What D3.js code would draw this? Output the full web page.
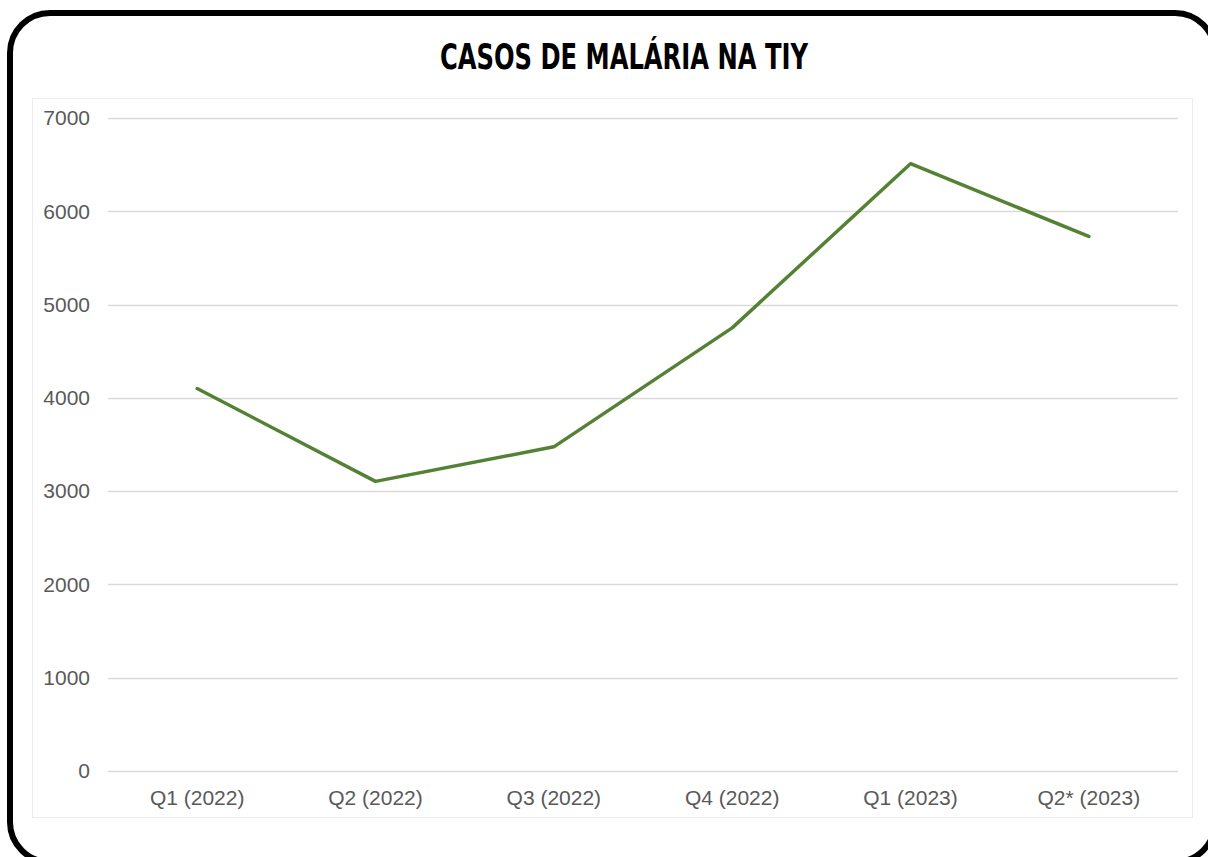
<!DOCTYPE html>
<html>
<head>
<meta charset="utf-8">
<script src="https://cdn.jsdelivr.net/npm/d3@7"></script>
<style>
  body { margin: 0; background: #fff; }
  svg { display: block; }
</style>
</head>
<body>
<svg width="1208" height="857"></svg>
<script>
var categories = ["Q1 (2022)", "Q2 (2022)", "Q3 (2022)", "Q4 (2022)", "Q1 (2023)", "Q2* (2023)"];
var casos = [4100, 3105, 3475, 4750, 6510, 5730];
var yTicks = [0, 1000, 2000, 3000, 4000, 5000, 6000, 7000];
var title = "CASOS DE MALÁRIA NA TIY";

var svg = d3.select("svg"),
    width = +svg.attr("width"),
    height = +svg.attr("height");

// outer rounded frame
svg.append("rect")
    .attr("x", 10).attr("y", 13)
    .attr("width", 1205).attr("height", 849)
    .attr("rx", 40).attr("ry", 40)
    .attr("fill", "none")
    .attr("stroke", "#000")
    .attr("stroke-width", 6);

// faint chart-area box
svg.append("rect")
    .attr("x", 32.5).attr("y", 98.5)
    .attr("width", 1160).attr("height", 719)
    .attr("fill", "none")
    .attr("stroke", "#ececec")
    .attr("stroke-width", 1);

svg.append("text")
    .attr("x", 624).attr("y", 69)
    .attr("text-anchor", "middle")
    .attr("font-family", "'DejaVu Sans Condensed', 'DejaVu Sans', sans-serif")
    .attr("font-stretch", "condensed")
    .attr("font-weight", "bold")
    .attr("font-size", 35)
    .attr("textLength", 368)
    .attr("lengthAdjust", "spacingAndGlyphs")
    .attr("fill", "#000")
    .text(title);

var margin = {left: 108, right: 1178, top: 118, bottom: 771};

var x = d3.scaleBand()
    .domain(categories)
    .range([margin.left, margin.right]);

var y = d3.scaleLinear()
    .domain([0, 7000])
    .range([margin.bottom, margin.top]);

// gridlines
svg.append("g")
    .selectAll("line")
    .data(yTicks)
    .enter().append("line")
    .attr("x1", margin.left).attr("x2", margin.right)
    .attr("y1", function (d) { return Math.round(y(d)) + 0.5; })
    .attr("y2", function (d) { return Math.round(y(d)) + 0.5; })
    .attr("stroke", "#d9d9d9")
    .attr("stroke-width", 1.3);

// y labels
svg.append("g")
    .selectAll("text")
    .data(yTicks)
    .enter().append("text")
    .attr("x", 90)
    .attr("y", function (d) { return y(d); })
    .attr("dy", "0.35em")
    .attr("text-anchor", "end")
    .attr("font-family", "'Liberation Sans', Arial, sans-serif")
    .attr("font-size", 21)
    .attr("fill", "#595959")
    .text(function (d) { return d; });

// x labels
svg.append("g")
    .selectAll("text")
    .data(categories)
    .enter().append("text")
    .attr("x", function (d) { return x(d) + x.bandwidth() / 2; })
    .attr("y", 805)
    .attr("text-anchor", "middle")
    .attr("font-family", "'Liberation Sans', Arial, sans-serif")
    .attr("font-size", 21)
    .attr("fill", "#595959")
    .text(function (d) { return d; });

var line = d3.line()
    .x(function (d, i) { return x(categories[i]) + x.bandwidth() / 2; })
    .y(function (d) { return y(d); });

svg.append("path")
    .datum(casos)
    .attr("d", line)
    .attr("fill", "none")
    .attr("stroke", "#548235")
    .attr("stroke-width", 3.5)
    .attr("stroke-linejoin", "round")
    .attr("stroke-linecap", "round");
</script>
</body>
</html>
